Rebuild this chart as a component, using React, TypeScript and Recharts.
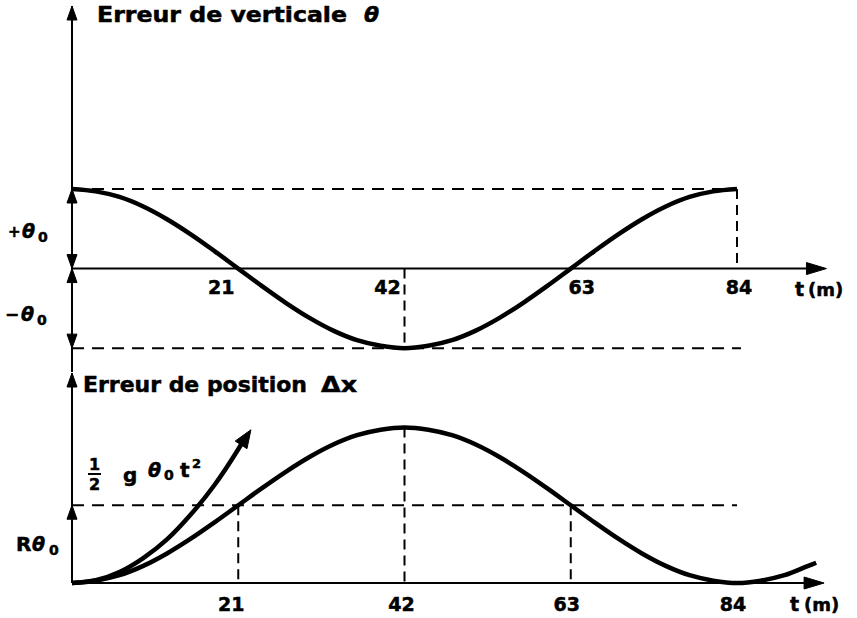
import React from 'react';
import { ComposedChart, Line, XAxis, YAxis, ReferenceLine, Scatter } from 'recharts';

// ---- data (time in minutes, values in units of θ0 / Rθ0) ----
const thetaTimes = [0, 3, 6, 9, 12, 15, 18, 21, 24, 27, 30, 33, 36, 39, 42, 45, 48, 51, 54, 57, 60, 63, 66, 69, 72, 75, 78, 81, 84];
const thetaValues = [1, 0.97, 0.9, 0.78, 0.62, 0.43, 0.22, 0, -0.22, -0.43, -0.62, -0.78, -0.9, -0.97, -1, -0.97, -0.9, -0.78, -0.62, -0.43, -0.22, 0, 0.22, 0.43, 0.62, 0.78, 0.9, 0.97, 1];

const posTimes = [0, 3, 6, 9, 12, 15, 18, 21, 24, 27, 30, 33, 36, 39, 42, 45, 48, 51, 54, 57, 60, 63, 66, 69, 72, 75, 78, 81, 84, 87, 90, 93, 94];
const posValues = [0, 0.03, 0.1, 0.22, 0.38, 0.57, 0.78, 1, 1.22, 1.43, 1.62, 1.78, 1.9, 1.97, 2, 1.97, 1.9, 1.78, 1.62, 1.43, 1.22, 1, 0.78, 0.57, 0.38, 0.22, 0.1, 0.03, 0, 0.03, 0.1, 0.22, 0.26];

const parTimes = [0, 3, 6, 9, 12, 15, 18, 21, 21.6];
const parValues = [0, 0.035, 0.14, 0.32, 0.56, 0.88, 1.26, 1.72, 1.82];

const tickValues = [21, 42, 63, 84];
const tickLabels = ['21', '42', '63', '84'];

// arrowheads: tip position (t, v) and pointing direction in degrees (0 = right, -90 = up)
const topArrowT = [0, 0, 0, 0, 0, 95.3];
const topArrowV = [3.3, 1, 0, 0, -1, 0];
const topArrowDir = [-90, -90, 90, -90, 90, 0];

const botArrowT = [0, 0, 95, 22.6];
const botArrowV = [2.7, 1, 0, 1.97];
const botArrowDir = [-90, -90, 0, -57];

// ---- derived tables ----
const thetaData = thetaTimes.map((t, i) => ({ t, v: thetaValues[i] }));
const posData = posTimes.map((t, i) => ({ t, v: posValues[i] }));
const parData = parTimes.map((t, i) => ({ t, v: parValues[i] }));
const topArrows = topArrowT.map((t, i) => ({ t, v: topArrowV[i], dir: topArrowDir[i] }));
const botArrows = botArrowT.map((t, i) => ({ t, v: botArrowV[i], dir: botArrowDir[i] }));
const topTicks = tickValues.map((t, i) => ({ t, v: 0, label: tickLabels[i] }));

// ---- styles ----
const FONT = '"DejaVu Sans", "Liberation Sans", sans-serif';
const INK = '#000';
const DASH = '12 8';
const TOP_TICK_DX: Record<string, number> = { '21': -17, '42': -17, '63': 11, '84': 2 };
const BOT_TICK_DX: Record<string, number> = { '21': -7, '42': -3, '63': -4, '84': -4 };

function arrowShape(props: any) {
  const { cx, cy, payload } = props;
  if (cx == null || cy == null) return <g />;
  const dir = payload.dir as number;
  const horiz = dir === 0;
  const slanted = dir !== 0 && dir !== 90 && dir !== -90;
  const len = horiz ? 20 : slanted ? 18 : 14;
  const half = horiz ? 6 : slanted ? 7 : 5;
  const a = (dir * Math.PI) / 180;
  const ux = Math.cos(a);
  const uy = Math.sin(a);
  const bx = cx - len * ux;
  const by = cy - len * uy;
  const px = -uy;
  const py = ux;
  const pts = `${cx},${cy} ${bx + half * px},${by + half * py} ${bx - half * px},${by - half * py}`;
  return <polygon points={pts} fill={INK} stroke={INK} strokeWidth={1} />;
}

function topTickShape(props: any) {
  const { cx, cy, payload } = props;
  if (cx == null || cy == null) return <g />;
  return (
    <text x={cx + TOP_TICK_DX[payload.label]} y={cy + 25} textAnchor="middle" fontFamily={FONT} fontWeight="bold" fontSize={19} fill={INK} stroke={INK} strokeWidth={0.5}>
      {payload.label}
    </text>
  );
}

function BottomTick(props: any) {
  const { x, y, payload } = props;
  const label = tickLabels[tickValues.indexOf(payload.value)];
  return (
    <text x={x + BOT_TICK_DX[label]} y={y + 28} textAnchor="middle" fontFamily={FONT} fontWeight="bold" fontSize={19} fill={INK} stroke={INK} strokeWidth={0.5}>
      {label}
    </text>
  );
}

export default function App() {
  return (
    <div style={{ position: 'absolute', left: 0, top: 0, width: 857, height: 618, background: '#fff', overflow: 'hidden' }}>
      {/* Upper panel: vertical error θ */}
      <div style={{ position: 'absolute', left: 0, top: 0 }}>
        <ComposedChart width={857} height={376} margin={{ top: 6, right: 25, bottom: 4, left: 72 }}>
          <XAxis type="number" dataKey="t" domain={[0, 96]} hide />
          <YAxis type="number" dataKey="v" domain={[-1.3, 3.3]} hide />
          <ReferenceLine x={0} stroke={INK} strokeWidth={2} />
          <ReferenceLine segment={[{ x: 0, y: 0 }, { x: 94, y: 0 }]} stroke={INK} strokeWidth={2} />
          <ReferenceLine segment={[{ x: 0, y: 1 }, { x: 84, y: 1 }]} stroke={INK} strokeWidth={2} strokeDasharray={DASH} />
          <ReferenceLine segment={[{ x: 84, y: 1 }, { x: 84, y: 0 }]} stroke={INK} strokeWidth={2} strokeDasharray="10 6" />
          <ReferenceLine segment={[{ x: 0, y: -1 }, { x: 84.5, y: -1 }]} stroke={INK} strokeWidth={2} strokeDasharray={DASH} />
          <ReferenceLine segment={[{ x: 42, y: 0 }, { x: 42, y: -1 }]} stroke={INK} strokeWidth={2} strokeDasharray="10 6" />
          <Line data={thetaData} dataKey="v" type="monotone" stroke={INK} strokeWidth={4.5} dot={false} activeDot={false} isAnimationActive={false} />
          <Scatter data={topArrows} dataKey="v" shape={arrowShape} isAnimationActive={false} />
          <Scatter data={topTicks} dataKey="v" shape={topTickShape} isAnimationActive={false} />
        </ComposedChart>
      </div>

      {/* Lower panel: position error Δx */}
      <div style={{ position: 'absolute', left: 0, top: 360 }}>
        <ComposedChart width={857} height={258} margin={{ top: 13, right: 25, bottom: 0, left: 72 }}>
          <XAxis
            type="number"
            dataKey="t"
            domain={[0, 96]}
            ticks={tickValues}
            axisLine={false}
            tickLine={false}
            tickSize={0}
            tickMargin={0}
            height={35}
            tick={<BottomTick />}
          />
          <YAxis type="number" dataKey="v" domain={[0, 2.7]} hide />
          <ReferenceLine x={0} stroke={INK} strokeWidth={2} />
          <ReferenceLine segment={[{ x: 0, y: 0 }, { x: 94, y: 0 }]} stroke={INK} strokeWidth={2} />
          <ReferenceLine segment={[{ x: 0, y: 1 }, { x: 84, y: 1 }]} stroke={INK} strokeWidth={2} strokeDasharray={DASH} />
          <ReferenceLine segment={[{ x: 21, y: 1 }, { x: 21, y: 0 }]} stroke={INK} strokeWidth={2} strokeDasharray="10 6" />
          <ReferenceLine segment={[{ x: 42, y: 2 }, { x: 42, y: 0 }]} stroke={INK} strokeWidth={2} strokeDasharray="10 6" />
          <ReferenceLine segment={[{ x: 63, y: 1 }, { x: 63, y: 0 }]} stroke={INK} strokeWidth={2} strokeDasharray="10 6" />
          <Line data={posData} dataKey="v" type="monotone" stroke={INK} strokeWidth={4.5} dot={false} activeDot={false} isAnimationActive={false} />
          <Line data={parData} dataKey="v" type="monotone" stroke={INK} strokeWidth={4.5} dot={false} activeDot={false} isAnimationActive={false} />
          <Scatter data={botArrows} dataKey="v" shape={arrowShape} isAnimationActive={false} />
        </ComposedChart>
      </div>

      {/* annotations */}
      <svg width={857} height={618} style={{ position: 'absolute', left: 0, top: 0, pointerEvents: 'none' }} fontFamily={FONT} fontWeight="bold" fill={INK} stroke={INK} strokeWidth={0.5}>
        <text x={97} y={22} fontSize={21} textLength={250} lengthAdjust="spacingAndGlyphs">Erreur de verticale</text>
        <text x={364} y={22} fontSize={22} fontStyle="italic">θ</text>

        <text x={8} y={237} fontSize={15}>+</text>
        <text x={22} y={238} fontSize={19} fontStyle="italic">θ</text>
        <text x={38} y={242} fontSize={14}>0</text>

        <text x={5} y={320} fontSize={17}>−</text>
        <text x={21} y={321} fontSize={19} fontStyle="italic">θ</text>
        <text x={37} y={325} fontSize={14}>0</text>

        <text x={83} y={392} fontSize={21} textLength={224} lengthAdjust="spacingAndGlyphs">Erreur de position</text>
        <text x={321} y={392} fontSize={21} textLength={36} lengthAdjust="spacingAndGlyphs">Δx</text>

        <text x={94.5} y={470} fontSize={16} textAnchor="middle">1</text>
        <line x1={88} y1={474} x2={101} y2={474} stroke={INK} strokeWidth={2} />
        <text x={94.5} y={490} fontSize={16} textAnchor="middle">2</text>
        <text x={123} y={482} fontSize={20}>g</text>
        <text x={148} y={477} fontSize={19} fontStyle="italic">θ</text>
        <text x={164} y={480} fontSize={14}>0</text>
        <text x={180} y={477} fontSize={20}>t</text>
        <text x={192} y={468} fontSize={13}>2</text>

        <text x={16} y={551} fontSize={20}>R</text>
        <text x={32} y={551} fontSize={19} fontStyle="italic">θ</text>
        <text x={49} y={555} fontSize={14}>0</text>

        <text x={795} y={296} fontSize={19}>t</text>
        <text x={808} y={296} fontSize={18}>(m)</text>
        <text x={790} y={611} fontSize={19}>t</text>
        <text x={804} y={611} fontSize={18}>(m)</text>
      </svg>
    </div>
  );
}
